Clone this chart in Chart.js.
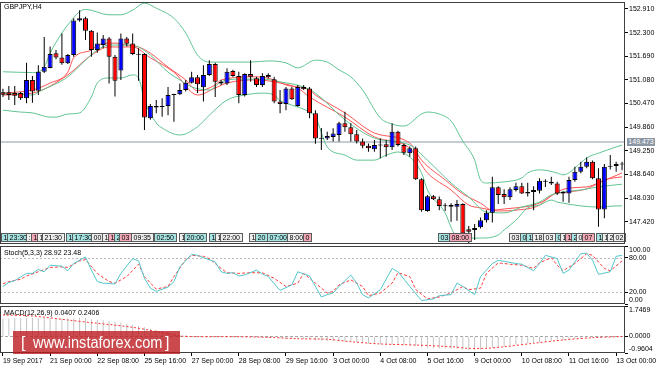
<!DOCTYPE html>
<html>
<head>
<meta charset="utf-8">
<title>GBPJPY,H4</title>
<script src="https://cdn.jsdelivr.net/npm/chart.js@4/dist/chart.umd.min.js"></script>
<style>
html,body{margin:0;padding:0;background:#fff;overflow:hidden;}
#wrap{position:relative;width:664px;height:369px;background:#fff;font-family:"Liberation Sans",Arial,sans-serif;}
#wrap canvas{position:absolute;left:0;}
.txt{position:absolute;font-size:7px;line-height:8px;color:#000;white-space:nowrap;}
#ptag{position:absolute;left:627px;top:138px;width:28px;height:8px;background:#8b97a4;color:#fff;font-size:7px;line-height:8px;text-align:center;}
#wm{position:absolute;left:13px;top:331px;width:167px;height:23px;background:rgba(188,28,32,0.8);color:#fff;}
#wm span{position:absolute;top:3px;font-size:16px;line-height:17px;white-space:nowrap;}
</style>
</head>
<body>
<div id="wrap">
  <canvas id="cMain" width="664" height="246" style="top:0px"></canvas>
  <canvas id="cStoch" width="664" height="60" style="top:245px"></canvas>
  <canvas id="cMacd" width="664" height="64" style="top:305px"></canvas>
  <div class="txt" style="left:4px;top:3px">GBPJPY,H4</div>
  <div class="txt" style="left:4px;top:249px">Stoch(5,3,3) 28.92 23.48</div>
  <div class="txt" style="left:4px;top:309px">MACD(12,26,9) 0.0407 0.2406</div>
  <div id="ptag">149.473</div>
  <div id="wm"><span style="left:8px">[</span><span style="left:20px;transform:scaleX(0.91);transform-origin:0 0">www.instaforex.com</span><span style="left:152px">]</span></div>
</div>
<script>
// ---------- DATA ----------
const tickLabels = ['19 Sep 2017','21 Sep 00:00','22 Sep 08:00','25 Sep 16:00','27 Sep 00:00','28 Sep 08:00','29 Sep 16:00','3 Oct 00:00','4 Oct 08:00','5 Oct 16:00','9 Oct 00:00','10 Oct 08:00','11 Oct 16:00','13 Oct 00:00'];
const priceTicks = [147.420,148.030,148.640,149.250,149.860,150.470,151.080,151.690,152.300,152.910];
const priceMin = 146.847, priceMax = 153.090;
const levelLine = 149.473;
const stochTicks = [0,20,80,100];
const stochLevels = [20,80];
const macdMin = -0.9604, macdMax = 1.7469;

const open = [150.76,150.76,150.74,150.74,150.61,151.08,150.80,151.29,151.39,151.77,
151.66,151.51,151.72,152.61,152.67,152.35,151.85,151.98,152.15,151.68,
151.32,152.15,152.02,151.75,151.75,150.09,150.41,150.38,150.41,150.69,
150.71,150.82,151.01,151.15,150.89,151.21,151.49,151.03,150.99,151.31,
151.18,150.69,151.23,151.12,150.95,151.21,151.10,150.52,150.46,150.86,
150.41,150.90,150.86,150.22,149.57,149.57,149.61,149.66,149.96,149.86,
149.68,149.49,149.38,149.29,149.40,149.42,149.34,149.74,149.40,149.19,
149.32,148.52,147.70,148.08,148.00,147.83,147.85,147.81,147.88,147.23,
147.21,147.28,147.46,147.65,148.31,148.14,148.05,148.24,148.34,148.15,
148.19,148.22,148.45,148.45,148.41,148.15,148.15,148.50,148.71,148.84,
148.97,148.54,147.74,148.84,148.86,148.91];
const high = [150.85,150.92,150.92,150.77,151.52,151.18,151.46,152.19,151.94,151.85,
152.28,151.75,152.67,152.88,152.71,152.37,152.30,152.24,152.19,151.72,
152.28,152.19,152.28,151.90,151.77,150.46,150.56,150.61,150.90,150.72,
150.99,151.08,151.29,151.21,151.46,151.59,151.52,151.08,151.38,151.34,
151.29,151.25,151.59,151.16,151.25,151.25,151.16,150.82,150.90,150.90,
150.95,150.95,150.90,150.30,149.84,149.74,149.83,150.00,150.26,149.96,
149.79,149.57,149.44,149.53,149.57,149.53,149.96,149.77,149.44,149.36,
149.36,148.54,148.11,148.11,148.07,147.90,147.90,147.98,147.90,147.31,
147.36,147.53,147.72,148.58,148.34,148.26,148.31,148.43,148.43,148.43,
148.34,148.54,148.52,148.58,148.45,148.21,148.58,148.84,148.97,149.08,
149.00,148.80,148.91,149.14,148.97,148.97];
const low = [150.64,150.56,150.43,150.56,150.48,150.49,150.69,151.26,151.38,151.61,
151.47,151.49,151.68,152.58,152.11,151.68,151.78,151.90,150.99,150.65,
151.08,151.94,151.72,151.06,149.79,150.05,150.22,150.13,150.17,150.00,
150.69,150.78,150.99,150.74,150.52,151.18,150.64,150.95,150.95,151.16,
150.48,150.65,151.03,150.90,150.90,151.12,150.48,150.22,150.30,150.56,
150.39,150.82,150.09,149.43,149.27,149.53,149.49,149.49,149.74,149.49,
149.44,149.32,149.23,149.23,149.06,149.10,149.27,149.36,149.14,149.10,
148.50,147.68,147.68,147.98,147.72,147.70,147.42,147.45,146.95,146.85,
146.95,147.25,147.40,147.40,147.88,147.88,147.98,148.20,148.14,148.07,
147.72,148.15,148.32,148.37,148.11,147.94,147.91,148.45,148.67,148.80,
148.52,147.29,147.51,148.77,148.71,148.75];
const close = [150.70,150.69,150.67,150.61,151.08,150.78,151.29,151.42,151.75,151.66,
151.51,151.72,152.61,152.67,152.35,151.85,152.02,152.15,151.68,151.06,
152.15,152.01,151.75,151.73,150.11,150.41,150.37,150.39,150.69,150.71,
150.82,151.01,151.15,150.97,151.21,151.49,151.03,150.99,151.29,151.18,
150.69,151.23,151.16,150.95,151.18,151.15,150.52,150.46,150.86,150.58,
150.90,150.84,150.22,149.57,149.56,149.63,149.70,149.96,149.86,149.68,
149.49,149.38,149.32,149.40,149.39,149.34,149.74,149.40,149.20,149.32,
148.52,147.72,148.08,148.00,147.83,147.82,147.81,147.88,147.12,147.16,
147.26,147.46,147.65,148.31,148.11,148.05,148.26,148.34,148.15,148.19,
148.24,148.48,148.48,148.41,148.15,148.19,148.50,148.71,148.84,148.97,
148.54,147.74,148.84,148.85,148.91,148.90];

// indicator readings: [bar index, value]
const bbUpper = [[0,151.29],[5,151.27],[7,151.41],[8,151.77],[10,152.29],[11,152.50],[13,152.84],[14,152.90],[18,152.76],[20,152.76],[22,152.88],[24,153.06],[26,152.93],[29,152.67],[31,152.29],[33,151.72],[35,151.54],[37,151.54],[42,151.54],[45,151.57],[48,151.52],[50,151.39],[53,151.59],[55,151.54],[57,151.34],[59,151.16],[61,150.82],[64,150.10],[66,149.94],[68,149.89],[71,150.20],[72,150.25],[74,150.20],[76,150.02],[78,149.50],[80,149.01],[81,148.50],[82,148.42],[85,148.45],[88,148.55],[89,148.68],[91,148.76],[94,148.68],[95,148.63],[98,148.94],[99,149.07],[101,149.19],[104,149.35],[105,149.40]];
const bbMid = [[0,150.74],[5,150.69],[6,150.77],[11,151.16],[14,151.59],[16,151.85],[18,151.98],[21,151.98],[23,151.93],[25,151.72],[28,151.28],[30,151.08],[32,150.90],[35,150.82],[37,151.03],[40,151.10],[44,151.10],[47,151.03],[51,150.90],[53,150.74],[58,150.05],[63,149.58],[69,149.40],[72,149.01],[76,148.42],[79,148.06],[82,147.67],[85,147.65],[88,147.80],[91,147.93],[93,148.11],[95,148.19],[98,148.24],[101,148.32],[105,148.39]];
const bbLower = [[0,150.30],[3,150.25],[5,150.23],[8,150.12],[9,150.12],[11,150.20],[13,150.23],[15,150.64],[16,151.00],[18,151.13],[20,151.13],[22,151.21],[23,151.13],[24,150.56],[26,149.97],[27,149.84],[30,149.66],[33,149.87],[35,150.17],[38,150.56],[41,150.69],[44,150.74],[46,150.69],[47,150.54],[49,150.43],[52,150.25],[53,150.12],[55,149.35],[58,149.14],[60,149.01],[63,149.01],[65,149.14],[67,149.22],[69,149.09],[71,148.68],[72,148.24],[75,147.65],[76,147.28],[77,147.03],[79,147.00],[81,147.00],[84,147.08],[85,147.21],[87,147.46],[89,147.78],[91,147.85],[93,147.98],[94,147.93],[95,147.90],[98,147.83],[101,147.80],[104,147.83],[105,147.83]];
const maFast = [[0,150.74],[5,150.82],[8,151.00],[11,151.28],[12,151.65],[15,151.85],[16,151.98],[19,152.03],[21,151.98],[23,151.93],[25,151.77],[28,151.41],[31,151.08],[33,150.80],[36,150.95],[37,151.08],[43,151.16],[46,151.08],[48,150.95],[52,150.82],[53,150.69],[58,150.23],[63,149.71],[69,149.45],[71,149.01],[75,148.50],[78,148.14],[81,147.90],[83,147.72],[85,147.75],[87,147.78],[90,147.85],[92,147.98],[94,148.19],[96,148.29],[99,148.32],[101,148.42],[103,148.55],[105,148.68]];
const maSlow = [[0,150.69],[5,150.74],[11,151.21],[15,151.72],[18,151.93],[22,151.93],[25,151.65],[29,151.28],[33,150.69],[36,150.87],[38,151.00],[43,151.08],[47,151.00],[50,150.87],[52,150.64],[58,150.12],[63,149.61],[69,149.32],[72,148.68],[76,148.24],[79,147.85],[81,147.78],[84,147.70],[87,147.72],[91,147.85],[93,148.11],[96,148.19],[99,148.27],[101,148.42],[102,148.50],[105,148.58]];

const stochMain = [[0,30.2],[1,37.0],[2,40.4],[4,52.8],[5,52.8],[6,59.6],[7,55.6],[8,66.9],[10,65.2],[11,57.3],[12,69.8],[14,81.1],[15,58.5],[16,38.7],[17,35.9],[19,34.7],[20,52.8],[22,78.2],[23,74.3],[24,44.3],[25,27.4],[26,21.7],[28,29.1],[29,38.7],[30,64.1],[32,85.6],[33,83.9],[34,79.9],[36,72.6],[37,55.6],[38,52.8],[39,53.9],[40,48.3],[41,50.0],[43,58.5],[44,51.7],[45,47.2],[47,23.4],[49,33.0],[50,55.6],[52,48.3],[54,12.1],[55,16.1],[56,18.9],[57,30.2],[59,50.0],[60,35.9],[61,16.1],[62,10.4],[64,24.6],[66,61.3],[67,55.6],[69,30.2],[71,5.9],[73,8.7],[74,14.4],[76,16.1],[77,35.9],[78,30.2],[80,16.1],[81,47.2],[83,69.8],[84,75.4],[87,69.8],[88,68.6],[90,57.3],[91,69.8],[92,83.9],[94,78.2],[95,52.8],[96,58.5],[98,86.7],[99,87.8],[100,75.4],[101,51.1],[103,55.6],[104,82.2],[105,83.9]];
const stochSignal = [[0,34.7],[1,38.7],[3,42.6],[4,48.3],[6,55.6],[8,63.0],[10,64.1],[11,63.0],[13,74.3],[14,76.5],[16,52.8],[18,38.7],[19,35.9],[21,47.2],[23,68.6],[24,47.2],[26,25.7],[28,30.2],[29,47.2],[31,76.5],[32,83.9],[34,82.2],[35,78.2],[37,61.3],[38,53.9],[40,52.8],[42,53.9],[44,53.9],[46,44.3],[48,30.2],[50,35.9],[51,52.8],[53,35.9],[55,18.9],[56,21.7],[57,33.0],[59,41.5],[61,30.2],[62,14.4],[64,18.9],[66,35.9],[67,53.9],[69,47.2],[70,25.0],[72,8.7],[74,12.1],[76,18.9],[78,30.2],[79,24.6],[81,27.4],[82,52.8],[84,70.9],[86,68.6],[88,66.9],[90,61.3],[91,70.9],[93,79.9],[94,66.9],[95,57.3],[97,69.8],[99,86.7],[100,83.9],[102,61.3],[103,57.3],[105,74.3]];

const macdHist = [1.02,1.03,1.04,1.04,1.05,1.05,1.04,1.05,
1.06,1.05,1.03,1.02,1.04,1.07,1.06,
0.98,0.95,0.92,0.88,0.84,0.78,0.72,0.66,0.60,
0.52,0.45,0.38,0.31,0.24,0.17,0.11,
0.07,0.04,0.02,0.01,0.00,-0.01,-0.01,-0.02,-0.03,-0.03,
-0.04,-0.05,-0.06,-0.07,-0.08,-0.10,-0.11,-0.12,-0.13,-0.14,
-0.16,-0.18,-0.22,-0.25,-0.27,
-0.29,-0.30,-0.31,-0.32,-0.34,-0.37,
-0.41,-0.44,-0.46,-0.48,-0.49,
-0.50,-0.51,-0.53,-0.57,
-0.63,-0.67,-0.69,-0.70,-0.70,
-0.71,-0.72,-0.76,-0.79,
-0.80,-0.78,-0.75,
-0.66,-0.62,-0.58,
-0.53,-0.49,-0.46,-0.42,
-0.39,-0.35,-0.31,-0.28,
-0.26,-0.23,-0.19,-0.15,
-0.11,-0.07,-0.05,-0.06,
-0.03,0.00,0.02,0.04];
const macdSignal = [[0,1.23],[5,1.17],[11,0.94],[16,0.75],[22,0.52],[27,0.21],[30,0.02],[33,-0.02],[39,-0.02],[45,-0.06],[50,-0.14],[55,-0.17],[59,-0.31],[64,-0.44],[70,-0.50],[76,-0.60],[79,-0.69],[82,-0.69],[85,-0.60],[90,-0.40],[95,-0.21],[100,-0.08],[105,-0.01]];

// trade labels shown along the bottom of the price panel: [bar position, text, kind]
const tradeTags = [[-0.27,'1','c'],[0.68,'23:30','c'],[3.85,':','w'],[4.8,'1','p'],[5.76,'1','w'],[6.68,'21:30','w'],[10.75,'1','c'],[11.64,'17:30','c'],[14.98,'00','w'],[16.85,'1','w'],[17.8,'1','p'],[18.76,'2','c'],[19.66,'03','p'],[21.76,'09:35','w'],[25.7,'02:50','c'],[29.83,'1','w'],[30.63,'20:00','c'],[35.03,'1','c'],[35.88,'1','w'],[36.73,'22:00','w'],[41.8,'1','w'],[42.78,'20','c'],[44.8,'07:00','c'],[48.1,'8:00','w'],[50.97,'0','p'],[73.73,'03','c'],[75.7,'08:00','p'],[85.76,'03','w'],[87.7,'0','c'],[88.7,'1','c'],[89.66,'18','w'],[91.64,'03','w'],[93.66,'0','c'],[94.5,'1','w'],[95.3,'1','p'],[96.3,'2','c'],[97.2,'0','w'],[98.2,'07','p'],[100.6,'1','c'],[101.6,'1','w'],[102.5,'2','w'],[103.5,'02','w']];

// ---------- BUILD ----------
function buildBarTimes(n){
  const out=[]; let t=Date.UTC(2017,8,19,16);
  while(out.length<n){ const d=new Date(t); const wd=d.getUTCDay(); if(wd!==0&&wd!==6) out.push(d.toISOString().slice(0,16)); t+=4*3600e3; }
  return out;
}
const barTimes = buildBarTimes(open.length);
const pts = arr => arr.map(([i,v])=>({x:barTimes[i], y:v}));

const FONT = '"Liberation Sans", Arial, sans-serif';
Chart.defaults.font.family = FONT;
Chart.defaults.font.size = 7;
Chart.defaults.color = '#000';

function xAxis(show){
  return {
    type:'category', offset:true, display:show,
    grid:{display:true, drawOnChartArea:false, drawTicks:true, tickLength:3, offset:false, color:'#000', tickColor:'#000'},
    border:{display:false},
    ticks:{autoSkip:false, maxRotation:0, minRotation:0, align:'start', padding:1,
      callback:(v)=> (tickLabels[v/8] !== undefined ? tickLabels[v/8] : '')},
    afterBuildTicks:(s)=>{ s.ticks = s.ticks.filter(t=>t.value%8===0); },
    afterFit:(s)=>{ s.paddingLeft=0; s.paddingRight=0; if(show) s.height=16; }
  };
}
function yAxis(min,max,tickVals,fmt){
  return {
    type:'linear', position:'right', min, max,
    grid:{drawOnChartArea:false, drawTicks:true, tickLength:3, tickColor:'#000'},
    border:{display:false},
    ticks:{padding:1, autoSkip:false, callback:fmt},
    afterBuildTicks:(s)=>{ s.ticks = tickVals.map(v=>({value:v})); },
    afterFit:(s)=>{ s.width=39; s.paddingTop=0; s.paddingBottom=0; }
  };
}
const framePlugin = {
  id:'frame',
  afterDraw(chart){
    const {ctx, chartArea:a} = chart;
    ctx.save(); ctx.strokeStyle='#3f3f3f'; ctx.lineWidth=1;
    ctx.strokeRect(Math.round(a.left)+0.5, Math.round(a.top)+0.5, Math.round(a.right-a.left)-1, Math.round(a.bottom-a.top)-1);
    ctx.restore();
  }
};
function levelPlugin(id, levels, color, dash, width){
  return { id, beforeDatasetsDraw(chart){
    const y=chart.scales.y, a=chart.chartArea, ctx=chart.ctx;
    ctx.save(); ctx.strokeStyle=color; ctx.lineWidth=width; ctx.setLineDash(dash);
    levels.forEach(v=>{ const py=Math.round(y.getPixelForValue(v))+(width%2?0.5:0);
      ctx.beginPath(); ctx.moveTo(a.left,py); ctx.lineTo(a.right,py); ctx.stroke(); });
    ctx.restore();
  }};
}
const tagFill = {c:'#a6e3e3', p:'#f4a9b8', w:'#eeeeee'};
const tagPlugin = {
  id:'tags',
  afterDatasetsDraw(chart){
    const ctx=chart.ctx, xs=chart.scales.x, a=chart.chartArea;
    const y=Math.round(a.bottom)-11, h=8;
    ctx.save(); ctx.font='7px '+FONT; ctx.textBaseline='middle';
    tradeTags.forEach(([idx,txt,k])=>{
      const x=Math.round(xs.getPixelForValue(idx));
      const w=Math.ceil(ctx.measureText(txt).width)+4;
      ctx.fillStyle=tagFill[k]; ctx.fillRect(x+0.5,y+0.5,w,h);
      ctx.strokeStyle='#5a5a5a'; ctx.lineWidth=1; ctx.strokeRect(x+0.5,y+0.5,w,h);
      ctx.fillStyle='#000'; ctx.fillText(txt,x+2.5,y+4.8);
    });
    ctx.restore();
  }
};
function lineDs(arr,color,extra){
  return Object.assign({type:'line', data:pts(arr), borderColor:color, borderWidth:1, pointRadius:0,
    fill:false, cubicInterpolationMode:'monotone', spanGaps:true, order:3}, extra||{});
}
const baseOpts = {responsive:false, animation:false, events:[], plugins:{legend:{display:false}, tooltip:{enabled:false}}};

// main price panel
const wickData = low.map((l,i)=>[l,high[i]]);
const bodyData = open.map((o,i)=>[Math.min(o,close[i]), Math.max(o,close[i])]);
const bodyColor = open.map((o,i)=> close[i]>=o ? '#0000ff' : '#ff0000');
new Chart(document.getElementById('cMain'), {
  type:'bar',
  data:{labels:barTimes, datasets:[
    lineDs(bbUpper,'#5fc492'), lineDs(bbMid,'#5fc492'), lineDs(bbLower,'#5fc492'),
    lineDs(maSlow,'#ff5252'), lineDs(maFast,'#ff5252'),
    {type:'bar', data:wickData, backgroundColor:'#000', barThickness:1, inflateAmount:0, grouped:false, order:2},
    {type:'bar', data:bodyData, backgroundColor:bodyColor, borderColor:'#000', borderWidth:1, borderSkipped:false,
     barThickness:5, inflateAmount:0, grouped:false, minBarLength:1, order:1}
  ]},
  options:Object.assign({}, baseOpts, {
    layout:{padding:{top:2,bottom:2,left:0,right:0}},
    scales:{x:xAxis(false), y:yAxis(priceMin,priceMax,priceTicks,v=>v.toFixed(3))}
  }),
  plugins:[levelPlugin('lvMain',[levelLine],'#c6ccd4',[],2), tagPlugin, framePlugin]
});

// stochastic panel
new Chart(document.getElementById('cStoch'), {
  type:'line',
  data:{labels:barTimes, datasets:[
    {data:pts(stochMain), borderColor:'#52c7cc', borderWidth:1, pointRadius:0, tension:0, spanGaps:true, order:1},
    {data:pts(stochSignal), borderColor:'#ff3b3b', borderWidth:1, borderDash:[3,2], pointRadius:0, tension:0, spanGaps:true, order:2}
  ]},
  options:Object.assign({}, baseOpts, {
    layout:{padding:{top:1,bottom:1,left:0,right:0}},
    scales:{x:xAxis(false), y:yAxis(0,100,stochTicks,v=> v===100?['','100.00']:(v===0?['0.00','']:v.toFixed(2)))}
  }),
  plugins:[levelPlugin('lvStoch',stochLevels,'#b8b8b8',[2,2],1), framePlugin]
});

// MACD panel
new Chart(document.getElementById('cMacd'), {
  type:'bar',
  data:{labels:barTimes, datasets:[
    {type:'bar', data:macdHist, backgroundColor:'#c4c4c4', barThickness:1, inflateAmount:0, order:2},
    {type:'line', data:pts(macdSignal), borderColor:'#ff3333', borderWidth:1, borderDash:[2,2], pointRadius:0, tension:0.3, spanGaps:true, order:1}
  ]},
  options:Object.assign({}, baseOpts, {
    layout:{padding:{top:1,bottom:0,left:0,right:0}},
    scales:{x:xAxis(true), y:yAxis(macdMin,macdMax,[macdMin,0,macdMax],v=> v===macdMax?['','1.7469']:(v===macdMin?['-0.9604','']:v.toFixed(4)))}
  }),
  plugins:[levelPlugin('lvMacd',[0],'#a8a8a8',[3,2],1), framePlugin]
});
</script>
</body>
</html>
